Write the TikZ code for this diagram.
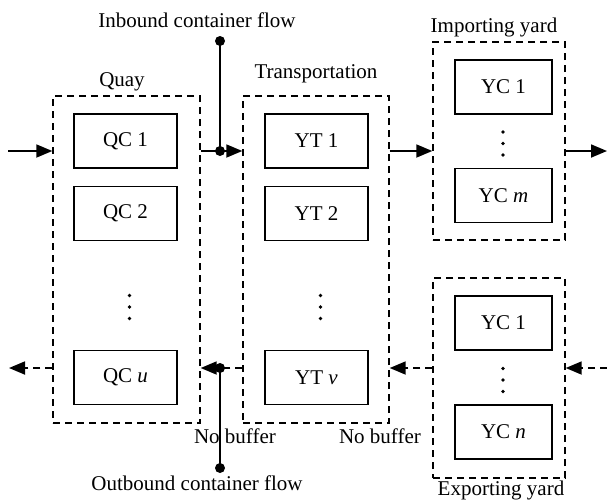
\documentclass[tikz,border=0pt]{standalone}
\usepackage{fontspec}
\setmainfont{Liberation Serif}
\usetikzlibrary{arrows.meta}
\begin{document}
\begin{tikzpicture}[x=1pt,y=-1pt,
  font=\fontsize{21}{25}\selectfont,
  grp/.style={draw, line width=1.4pt, dash pattern=on 7pt off 5pt, inner sep=0pt},
  unit/.style={draw, line width=1.5pt, inner sep=0pt, minimum height=54pt},
  lab/.style={anchor=base, inner sep=0pt},
  tipA/.style={-{Triangle[length=16pt,width=13pt]}},
  flow/.style={tipA, line width=1.8pt},
  ret/.style={tipA, line width=1.8pt, dash pattern=on 7pt off 5pt},
  jn/.style={circle, fill, inner sep=0pt, minimum size=10pt},
  feed/.style={line width=1.8pt}]
\useasboundingbox (0,0) rectangle (607,501);
% groups
\node[grp, minimum width=147pt, minimum height=327pt] (quay) at (126.5,259.5) {};
\node[grp, minimum width=146pt, minimum height=327pt] (trans) at (316,259.5) {};
\node[grp, minimum width=132pt, minimum height=198pt] (imp) at (499,141) {};
\node[grp, minimum width=132pt, minimum height=200pt] (exp) at (499,378) {};
% units
\node[unit, minimum width=103pt] (qc1) at (125.5,141) {QC 1};
\node[unit, minimum width=103pt] (qc2) at (125.5,213.5) {QC 2};
\node[unit, minimum width=103pt] (qcu) at (125.5,377.5) {QC \textit{u}};
\node[unit, minimum width=103pt] (yt1) at (316.5,141) {YT 1};
\node[unit, minimum width=103pt] (yt2) at (316.5,213.5) {YT 2};
\node[unit, minimum width=103pt] (ytv) at (316.5,377.5) {YT \textit{v}};
\node[unit, minimum width=97pt] (yci1) at (503.5,87) {YC 1};
\node[unit, minimum width=97pt] (ycm) at (503.5,195.5) {YC \textit{m}};
\node[unit, minimum width=97pt] (yce1) at (503.5,323) {YC 1};
\node[unit, minimum width=97pt] (ycn) at (503.5,432) {YC \textit{n}};
% ellipses
\foreach \x/\y in {129.5/307, 320.5/307, 503/143.5, 503/380}
  \foreach \d in {-11.5,0,11.5}
    \fill (\x,\y+\d) circle (1.9pt);
% labels
\node[lab] (lquay) at (122,86) {Quay};
\node[lab] (ltrans) at (316,78) {Transportation};
\node[lab] (limp) at (494,32) {Importing yard};
\node[lab] (lexp) at (501,495) {Exporting yard};
\node[lab] (lin) at (197,27) {Inbound container flow};
\node[lab] (lout) at (197,490) {Outbound container flow};
\node[lab] (nb1) at (235,443) {No buffer};
\node[lab] (nb2) at (380,443) {No buffer};
% rows
\coordinate (rowI) at (0,151);
\coordinate (rowE) at (0,368);
\coordinate (inL) at (8,151);
\coordinate (outR) at (607,151);
\coordinate (inR) at (607,368);
\coordinate (outL) at (9,368);
\node[jn] (j1) at (220,151) {};
\node[jn] (j2) at (220,368) {};
\node[jn] (src) at (220,41) {};
\node[jn] (snk) at (220,468) {};
% import flow
\draw[flow] (inL) -- (quay.west |- rowI);
\draw[flow] (quay.east |- rowI) -- (trans.west |- rowI);
\draw[feed] (src.center) -- (j1.center);
\draw[flow] (trans.east |- rowI) -- (imp.west |- rowI);
\draw[flow] (imp.east |- rowI) -- (outR);
% export flow
\draw[ret] (inR) -- (exp.east |- rowE);
\draw[ret] (exp.west |- rowE) -- (trans.east |- rowE);
\draw[ret] (trans.west |- rowE) -- (quay.east |- rowE);
\draw[feed] (j2.center) -- (snk.center);
\draw[ret] (quay.west |- rowE) -- (outL);
\end{tikzpicture}
\end{document}
